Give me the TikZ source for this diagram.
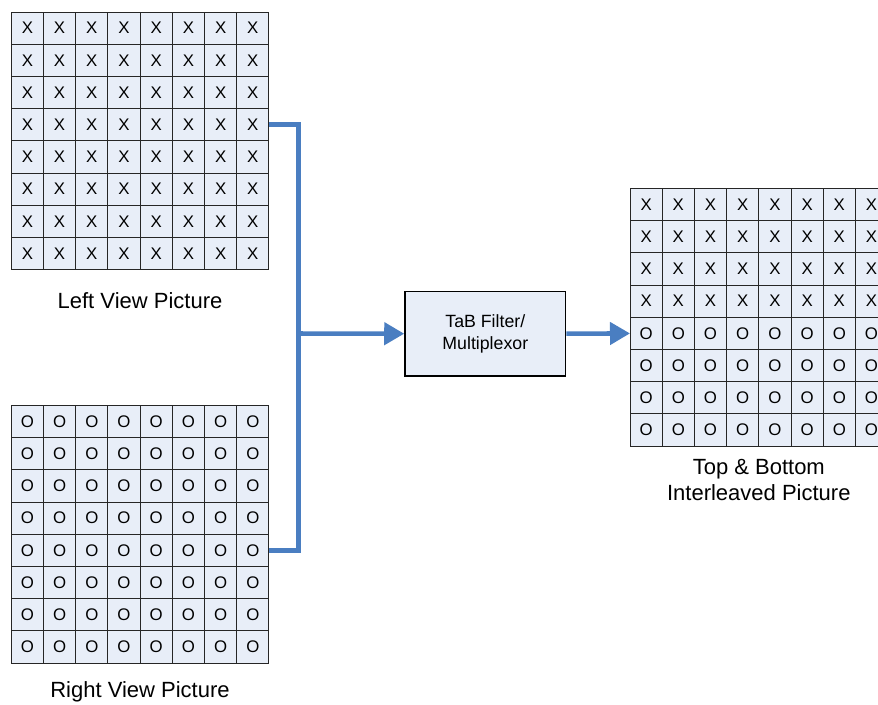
\documentclass[tikz,border=0pt]{standalone}
\usepackage{fontspec}
\setmainfont{Liberation Sans}
\usepackage{tikz}
\usetikzlibrary{arrows.meta}

\definecolor{cellfill}{RGB}{232,238,248}
\definecolor{feedblue}{RGB}{74,126,193}

\begin{document}
\begin{tikzpicture}[x=0.75pt, y=-0.75pt,
    cell/.style={draw=black!85, line width=0.7pt, fill=cellfill, inner sep=0pt, outer sep=0pt,
                 minimum size=24.15pt, font=\fontsize{12.6}{14}\selectfont},
    caption/.style={align=center, font=\fontsize{16.5}{19.7}\selectfont},
    feed/.style={draw=feedblue, line width=3.4pt},
    tip/.style={-{Triangle[length=15pt,width=16.5pt]}}]

  \clip (0,0) rectangle (878,704);

  % ---------- left view picture ----------
  \foreach \r in {1,...,8}
    \foreach \c in {1,...,8}
      \node[cell] (L-\r-\c) at ({27.4+(\c-1)*32.2},{28.1+(\r-1)*32.2}) {X};
  \node[caption, anchor=base] (lcap) at (140,308.3) {Left View Picture};

  % ---------- right view picture ----------
  \foreach \r in {1,...,8}
    \foreach \c in {1,...,8}
      \node[cell] (R-\r-\c) at ({27.4+(\c-1)*32.2},{421.5+(\r-1)*32.2}) {O};
  \node[caption, anchor=base] (rcap) at (140,697.5) {Right View Picture};

  % ---------- filter / multiplexor ----------
  \node[draw=black, line width=1.1pt, fill=cellfill, minimum width=120.5pt, minimum height=63.5pt,
        align=center, font=\fontsize{13.3}{16.3}\selectfont] (mux) at (485.3,333.7)
        {TaB Filter/\\Multiplexor};

  % ---------- top & bottom interleaved picture ----------
  \foreach \r in {1,...,4}
    \foreach \c in {1,...,8}
      \node[cell] (T-\r-\c) at ({646.1+(\c-1)*32.2},{204.6+(\r-1)*32.2}) {X};
  \foreach \r in {5,...,8}
    \foreach \c in {1,...,8}
      \node[cell] (T-\r-\c) at ({646.1+(\c-1)*32.2},{204.6+(\r-1)*32.2}) {O};
  \node[caption] (tcap) at (758.8,480.2) {Top \& Bottom\\Interleaved Picture};

  % ---------- connectors ----------
  \coordinate (join) at (298.5,333.5);
  \draw[feed] (L-4-8.east) -| (join);
  \draw[feed] (R-5-8.east) -| (join);
  \draw[feed, tip] (join) -- (mux.west);
  \draw[feed, tip] (mux.east) -- (T-5-1.west);

\end{tikzpicture}
\end{document}
